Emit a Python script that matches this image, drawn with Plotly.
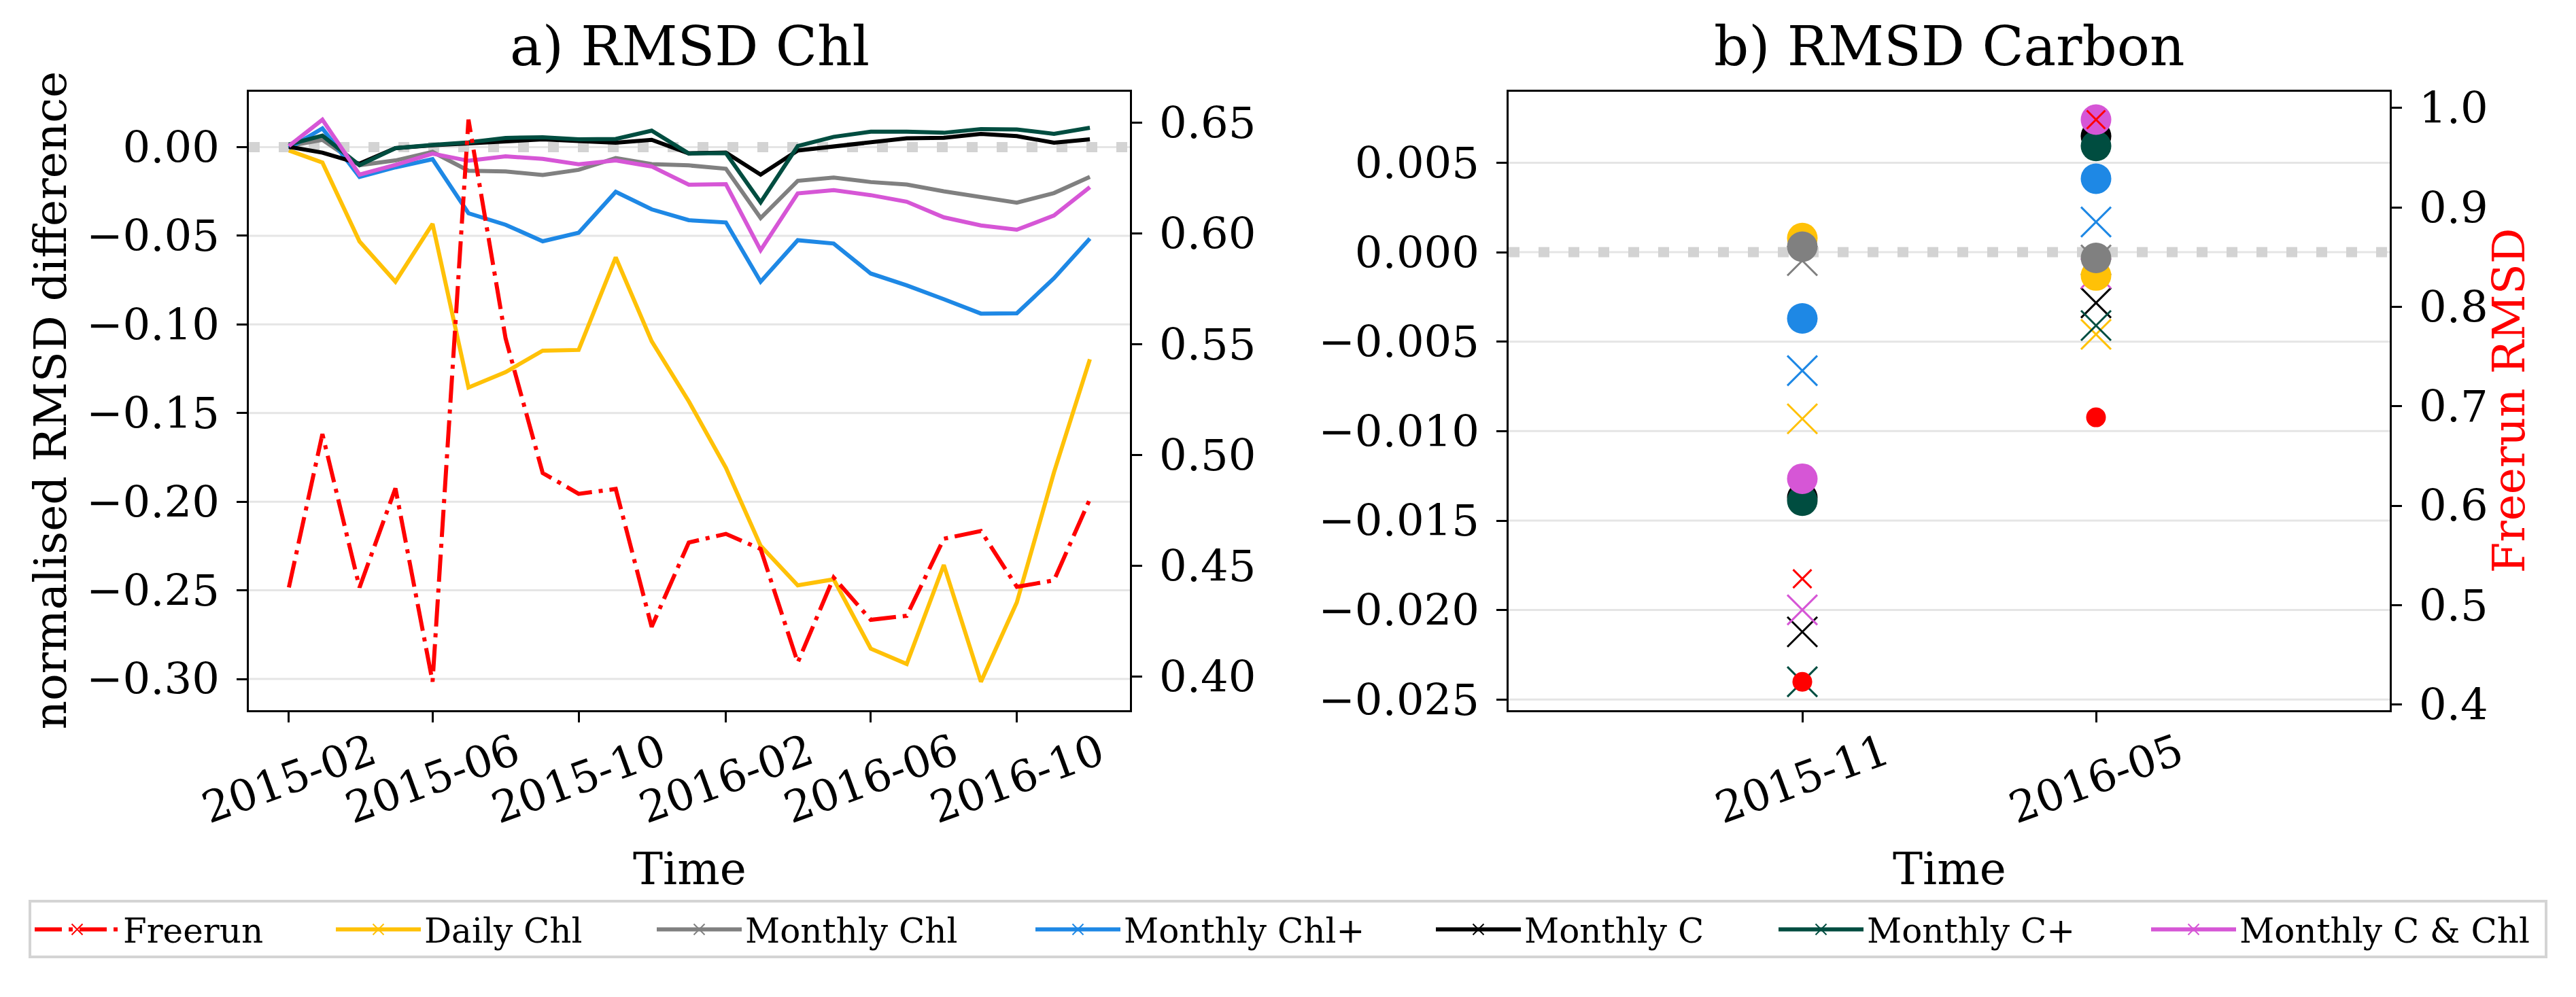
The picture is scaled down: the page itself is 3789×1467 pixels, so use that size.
import pandas as pd
import plotly.graph_objects as go

# ---- panel a: monthly RMSD of chlorophyll ----
months = ["2015-02-01", "2015-03-01", "2015-04-01", "2015-05-01", "2015-06-01", "2015-07-01",
          "2015-08-01", "2015-09-01", "2015-10-01", "2015-11-01", "2015-12-01", "2016-01-01",
          "2016-02-01", "2016-03-01", "2016-04-01", "2016-05-01", "2016-06-01", "2016-07-01",
          "2016-08-01", "2016-09-01", "2016-10-01", "2016-11-01", "2016-12-01"]

freerun_chl = [0.4402, 0.5095, 0.4402, 0.4850, 0.3976, 0.6515, 0.5527, 0.4919, 0.4825, 0.4847,
               0.4224, 0.4605, 0.4644, 0.4576, 0.4063, 0.4447, 0.4256, 0.4274, 0.4622, 0.4657,
               0.4405, 0.4434, 0.4801]
daily_chl = [-0.0019, -0.0087, -0.0532, -0.0759, -0.0433, -0.1356, -0.1269, -0.1148, -0.1144,
             -0.0622, -0.1095, -0.1434, -0.1809, -0.2249, -0.2472, -0.2438, -0.2829, -0.2916,
             -0.2357, -0.3016, -0.2568, -0.1835, -0.1197]
monthly_chl = [0.0006, 0.0041, -0.0102, -0.0075, -0.0027, -0.0133, -0.0137, -0.0157, -0.0128,
               -0.0062, -0.0096, -0.0103, -0.0122, -0.0400, -0.0190, -0.0172, -0.0197, -0.0211,
               -0.0249, -0.0282, -0.0313, -0.0259, -0.0168]
monthly_chl_plus = [-0.0006, 0.0106, -0.0168, -0.0114, -0.0068, -0.0373, -0.0438, -0.0531, -0.0483,
                    -0.0252, -0.0351, -0.0412, -0.0425, -0.0759, -0.0525, -0.0544, -0.0713, -0.0780,
                    -0.0858, -0.0939, -0.0937, -0.0740, -0.0516]
monthly_c = [0.0002, -0.0031, -0.0093, -0.0006, 0.0010, 0.0021, 0.0037, 0.0044, 0.0034, 0.0025,
             0.0041, -0.0035, -0.0031, -0.0155, -0.0019, 0.0004, 0.0031, 0.0050, 0.0053, 0.0075,
             0.0062, 0.0025, 0.0044]
monthly_c_plus = [0.0015, 0.0065, -0.0102, -0.0006, 0.0012, 0.0027, 0.0052, 0.0056, 0.0044, 0.0046,
                  0.0093, -0.0036, -0.0034, -0.0311, 0.0006, 0.0058, 0.0087, 0.0087, 0.0081, 0.0102,
                  0.0100, 0.0075, 0.0109]
monthly_c_chl = [0.0006, 0.0155, -0.0155, -0.0100, -0.0037, -0.0077, -0.0052, -0.0066, -0.0097,
                 -0.0075, -0.0109, -0.0212, -0.0209, -0.0581, -0.0261, -0.0243, -0.0271, -0.0308,
                 -0.0396, -0.0442, -0.0466, -0.0386, -0.0226]

chl_tick_dates = ["2015-02-01", "2015-06-01", "2015-10-01", "2016-02-01", "2016-06-01", "2016-10-01"]
chl_tick_text = ["2015-02", "2015-06", "2015-10", "2016-02", "2016-06", "2016-10"]
chl_yticks = [-0.30, -0.25, -0.20, -0.15, -0.10, -0.05, 0.00]
chl_freerun_ticks = [0.40, 0.45, 0.50, 0.55, 0.60, 0.65]

# ---- panel b: RMSD of carbon, two dates, 'o' and 'x' values ----
carbon_dates = ["2015-11", "2016-05"]
freerun_c_o = [0.4228, 0.6888]
freerun_c_x = [0.5264, 0.9883]
daily_chl_c_o = [0.00079, -0.00130]
daily_chl_c_x = [-0.00931, -0.00459]
monthly_chl_c_o = [0.00031, -0.00032]
monthly_chl_c_x = [-0.00047, -0.00043]
monthly_chl_plus_c_o = [-0.00370, 0.00411]
monthly_chl_plus_c_x = [-0.00662, 0.00169]
monthly_c_c_o = [-0.01371, 0.00649]
monthly_c_c_x = [-0.02122, -0.00283]
monthly_c_plus_c_o = [-0.01389, 0.00594]
monthly_c_plus_c_x = [-0.02401, -0.00410]
monthly_c_chl_c_o = [-0.01266, 0.00741]
monthly_c_chl_c_x = [-0.01999, -0.00118]

carbon_yticks = [-0.025, -0.020, -0.015, -0.010, -0.005, 0.000, 0.005]
carbon_freerun_ticks = [0.4, 0.5, 0.6, 0.7, 0.8, 0.9, 1.0]

ZERO = 0.0

FONT = "DejaVu Serif"
RED = "#FF0000"
runs = [
    # name, colour, panel a series, panel b circles, panel b crosses, legend width
    ("Daily Chl", "#FFC107", daily_chl, daily_chl_c_o, daily_chl_c_x, 357),
    ("Monthly Chl", "#808080", monthly_chl, monthly_chl_c_o, monthly_chl_c_x, 442),
    ("Monthly Chl+", "#1E88E5", monthly_chl_plus, monthly_chl_plus_c_o, monthly_chl_plus_c_x, 474),
    ("Monthly C", "#000000", monthly_c, monthly_c_c_o, monthly_c_c_x, 389),
    ("Monthly C+", "#004D40", monthly_c_plus, monthly_c_plus_c_o, monthly_c_plus_c_x, 433),
    ("Monthly C &amp; Chl", "#D656D6", monthly_c_chl, monthly_c_chl_c_o, monthly_c_chl_c_x, 469),
]


def padded(vals, frac=0.05):
    lo, hi = min(vals), max(vals)
    d = (hi - lo) * frac
    return [lo - d, hi + d]


t = pd.to_datetime(months)
span = t.max() - t.min()
date_range = [t.min() - span * 0.05, t.max() + span * 0.05]

fig = go.Figure()

# panel a lines
for name, col, vals, _, _, _ in runs:
    fig.add_trace(go.Scatter(x=months, y=vals, mode="lines", line=dict(color=col, width=6),
                             showlegend=False, xaxis="x", yaxis="y"))
fig.add_trace(go.Scatter(x=months, y=freerun_chl, mode="lines",
                         line=dict(color=RED, width=6, dash="40px,10px,6px,10px"),
                         showlegend=False, xaxis="x", yaxis="y2"))

# panel b markers: crosses first, then circles
for name, col, _, _, cx, _ in runs:
    fig.add_trace(go.Scatter(x=carbon_dates, y=cx, mode="markers",
                             marker=dict(symbol="x-thin", size=44, color=col, line=dict(width=3, color=col)),
                             showlegend=False, xaxis="x2", yaxis="y3"))
for name, col, _, co, _, _ in runs:
    fig.add_trace(go.Scatter(x=carbon_dates, y=co, mode="markers",
                             marker=dict(symbol="circle", size=45, color=col, line=dict(width=0)),
                             showlegend=False, xaxis="x2", yaxis="y3"))
fig.add_trace(go.Scatter(x=carbon_dates, y=freerun_c_x, mode="markers",
                         marker=dict(symbol="x-thin", size=27, color=RED, line=dict(width=3, color=RED)),
                         showlegend=False, xaxis="x2", yaxis="y4"))
fig.add_trace(go.Scatter(x=carbon_dates, y=freerun_c_o, mode="markers",
                         marker=dict(symbol="circle", size=29, color=RED, line=dict(width=0)),
                         showlegend=False, xaxis="x2", yaxis="y4"))

# legend entries (line + x marker), nothing drawn
legend_runs = [("Freerun", RED, "40px,10px,6px,10px", 303)] + [(n, c, "solid", w - 25) for n, c, _, _, _, w in runs]
for name, col, dash, lw in legend_runs:
    fig.add_trace(go.Scatter(x=[None], y=[None], mode="lines+markers", name=name,
                             line=dict(color=col, width=6, dash=dash),
                             marker=dict(symbol="x-thin", size=16, color=col, line=dict(width=2, color=col)),
                             legendwidth=lw, xaxis="x", yaxis="y"))

axis_common = dict(showline=True, linecolor="black", linewidth=3.3, ticks="outside", ticklen=15,
                   tickwidth=3.3, tickcolor="black", tickfont=dict(family=FONT, size=64, color="black"),
                   zeroline=False, showgrid=False)

all_a = sum([r[2] for r in runs], [])
all_b = sum([r[3] + r[4] for r in runs], [])

y_bot, y_top = 1 - 1054 / 1467, 1 - 118 / 1467
dom_a = [358 / 3789, 1654 / 3789]
dom_b = [2211 / 3789, 3507 / 3789]

fig.update_layout(
    width=3789, height=1467,
    margin=dict(l=0, r=0, t=0, b=0),
    paper_bgcolor="white", plot_bgcolor="white",
    font=dict(family=FONT, color="black"),
    xaxis=dict(axis_common, domain=dom_a, type="date", range=date_range, mirror=True,
               tickvals=chl_tick_dates, showticklabels=False, anchor="y"),
    yaxis=dict(axis_common, domain=[y_bot, y_top], range=padded(all_a), tickvals=chl_yticks,
               tickformat=".2f", anchor="x", ticklabelstandoff=12),
    yaxis2=dict(axis_common, overlaying="y", side="right", range=padded(freerun_chl),
                tickvals=chl_freerun_ticks, tickformat=".2f", anchor="x", ticklabelstandoff=12),
    xaxis2=dict(axis_common, domain=dom_b, type="category", categoryarray=carbon_dates,
                range=[-1, 2], mirror=True, showticklabels=False, anchor="y3"),
    yaxis3=dict(axis_common, domain=[y_bot, y_top], range=padded(all_b), tickvals=carbon_yticks,
                tickformat=".3f", anchor="x2", ticklabelstandoff=12),
    yaxis4=dict(axis_common, overlaying="y3", side="right", range=padded(freerun_c_o + freerun_c_x),
                tickvals=carbon_freerun_ticks, tickformat=".1f", anchor="x2", ticklabelstandoff=12),
    legend=dict(orientation="h", x=34 / 3789, xanchor="left", y=1 - 1342 / 1467, yanchor="top",
                font=dict(family=FONT, size=50, color="black"), itemwidth=125,
                bordercolor="#d4d4d4", borderwidth=4, bgcolor="white"),
)

# horizontal grid at the left-axis ticks, then the dotted zero line above it (both under the data)
for xr, yr, ticks in [("x domain", "y", chl_yticks), ("x2 domain", "y3", carbon_yticks)]:
    for v in ticks:
        fig.add_shape(type="line", xref=xr, x0=0, x1=1, yref=yr, y0=v, y1=v, layer="below",
                      line=dict(color="#e5e5e5", width=3))
    fig.add_shape(type="line", xref=xr, x0=0, x1=1, yref=yr, y0=ZERO, y1=ZERO, layer="below",
                  line=dict(color="#d3d3d3", width=15, dash="16px,28px"))

# rotated tick labels, centred on the ticks like the original
lab_y = 1 - 1158 / 1467
for d, lab in zip(chl_tick_dates, chl_tick_text):
    fig.add_annotation(x=d, xref="x", y=lab_y, yref="paper", text=lab, showarrow=False,
                       textangle=-20, xanchor="center", yanchor="middle",
                       font=dict(family=FONT, size=64, color="black"))
for d in carbon_dates:
    fig.add_annotation(x=d, xref="x2", y=lab_y, yref="paper", text=d, showarrow=False,
                       textangle=-20, xanchor="center", yanchor="middle",
                       font=dict(family=FONT, size=64, color="black"))

text_common = dict(xref="paper", yref="paper", showarrow=False, xanchor="center", yanchor="middle")
title_y = 1 - 50 / 1467
fig.add_annotation(text_common, x=sum(dom_a) / 2, y=title_y, text="a) RMSD Chl",
                   font=dict(family=FONT, size=80, color="black"))
fig.add_annotation(text_common, x=sum(dom_b) / 2, y=title_y, text="b) RMSD Carbon",
                   font=dict(family=FONT, size=80, color="black"))
for dom in (dom_a, dom_b):
    fig.add_annotation(text_common, x=sum(dom) / 2, y=1 - 1295 / 1467, text="Time",
                       font=dict(family=FONT, size=66, color="black"))
fig.add_annotation(text_common, x=67 / 3789, y=(y_bot + y_top) / 2,
                   text="normalised RMSD difference", textangle=-90,
                   font=dict(family=FONT, size=66, color="black"))
fig.add_annotation(text_common, x=3683 / 3789, y=(y_bot + y_top) / 2,
                   text="Freerun RMSD", textangle=-90,
                   font=dict(family=FONT, size=66, color=RED))

fig.write_html("out.html")
